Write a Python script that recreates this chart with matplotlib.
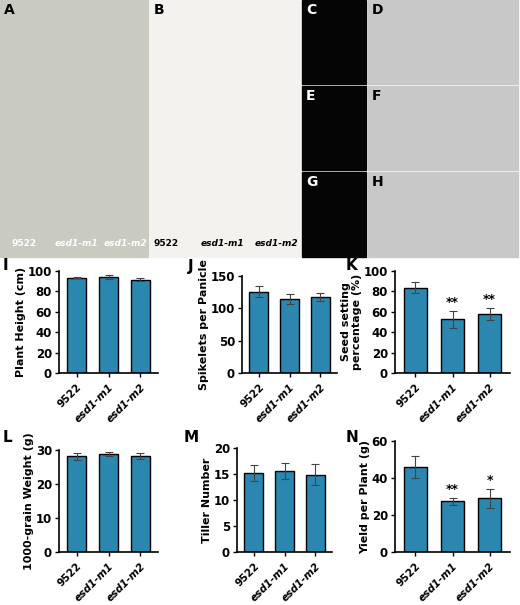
import matplotlib
matplotlib.use("Agg")
import matplotlib.pyplot as plt
from matplotlib.patches import Rectangle

genotypes = ["9522", "esd1-m1", "esd1-m2"]
plant_height = [93.5, 94.5, 91.5]; plant_height_err = [0.6, 2.0, 1.5]
spikelets = [126, 114, 118]; spikelets_err = [9, 8, 6]
seed_setting = [83.5, 52.5, 57.5]; seed_setting_err = [5.5, 8.5, 6]
grain_weight = [28.1, 28.8, 28.3]; grain_weight_err = [0.9, 0.5, 0.8]
tillers = [15.2, 15.6, 14.9]; tillers_err = [1.6, 1.6, 2.0]
yield_pp = [46, 27.3, 29]; yield_pp_err = [6, 2, 5]
sig_K = ["", "**", "**"]
sig_N = ["", "**", "*"]

W, H = 520, 605
fig = plt.figure(figsize=(5.2, 6.05), dpi=100)

def ax_px(l, t, r, b):
    return fig.add_axes([l / W, 1 - b / H, (r - l) / W, (b - t) / H])

photos = [("A", 0, 0, 148, 257, "#c9cbc0"), ("B", 150, 0, 300, 257, "#f4f2ee"),
          ("C", 302, 0, 366, 84, "#050505"), ("E", 302, 86, 366, 170, "#050505"),
          ("G", 302, 172, 366, 257, "#050505"),
          ("D", 368, 0, 518, 84, "#c8c8c8"), ("F", 368, 86, 518, 170, "#c8c8c8"),
          ("H", 368, 172, 518, 257, "#c8c8c8")]
bg = fig.add_axes([0, 0, 1, 1]); bg.set_xlim(0, W); bg.set_ylim(H, 0); bg.axis("off")
for lab, l, t, r, b, c in photos:
    bg.add_patch(Rectangle((l, t), r - l, b - t, color=c))
    tc = "black" if c != "#050505" else "white"
    bg.text(l + 4, t + 3, lab, color=tc, fontsize=10, fontweight="bold", va="top")
for x, s in [(24, "9522"), (76, "esd1-m1"), (125, "esd1-m2")]:
    bg.text(x, 244, s, color="white", fontsize=6.5, fontweight="bold", ha="center", va="center",
            style="normal" if s == "9522" else "italic")
for x, s in [(166, "9522"), (222, "esd1-m1"), (276, "esd1-m2")]:
    bg.text(x, 243, s, color="black", fontsize=6.5, fontweight="bold", ha="center", va="center",
            style="normal" if s == "9522" else "italic")

color = "#2b86b0"
panels = [
    ("I", (59, 271, 158, 373), plant_height, plant_height_err, 100, [0, 20, 40, 60, 80, 100], "Plant Height (cm)", None, (3, 265)),
    ("J", (242, 276, 337, 373), spikelets, spikelets_err, 150, [0, 50, 100, 150], "Spikelets per Panicle", None, (188, 266)),
    ("K", (395, 271, 510, 373), seed_setting, seed_setting_err, 100, [0, 20, 40, 60, 80, 100], "Seed setting\npercentage (%)", sig_K, (346, 265)),
    ("L", (59, 450, 158, 552), grain_weight, grain_weight_err, 30, [0, 10, 20, 30], "1000-grain Weight (g)", None, (3, 438)),
    ("M", (237, 448, 332, 552), tillers, tillers_err, 20, [0, 5, 10, 15, 20], "Tiller Number", None, (184, 438)),
    ("N", (395, 441, 510, 552), yield_pp, yield_pp_err, 60, [0, 20, 40, 60], "Yield per Plant (g)", sig_N, (346, 438)),
]
for lab, box, vals, errs, ymax, ticks, ylabel, sig, lpos in panels:
    ax = ax_px(*box)
    x = range(len(vals))
    ax.bar(x, vals, width=0.62, color=color, edgecolor="black", linewidth=1.0,
           yerr=errs, capsize=3, error_kw=dict(elinewidth=0.8, ecolor="#444444", capthick=0.8))
    ax.set_ylim(0, ymax); ax.set_yticks(ticks)
    ax.set_xlim(-0.55, 2.55)
    ax.set_xticks(list(x))
    ax.set_xticklabels(genotypes, rotation=45, ha="right", rotation_mode="anchor",
                       fontsize=7.5, fontweight="bold")
    for t in ax.get_xticklabels()[1:]:
        t.set_style("italic")
    ax.tick_params(axis="y", labelsize=8.5, width=1, length=3, pad=2)
    for t in ax.get_yticklabels():
        t.set_fontweight("bold")
    ax.tick_params(axis="x", width=1, length=3)
    ax.spines["top"].set_visible(False); ax.spines["right"].set_visible(False)
    ax.spines["left"].set_linewidth(1.2); ax.spines["bottom"].set_linewidth(1.2)
    ax.set_ylabel(ylabel, fontsize=8, fontweight="bold", labelpad=1)
    if sig:
        for i, s in enumerate(sig):
            if s:
                ax.text(i, vals[i] + errs[i] + ymax * 0.02, s, ha="center", va="bottom",
                        fontsize=9, fontweight="bold")
    bg.text(lpos[0], lpos[1], lab, fontsize=11, fontweight="bold", va="center", ha="left")

fig.savefig("out.png", dpi=100)
